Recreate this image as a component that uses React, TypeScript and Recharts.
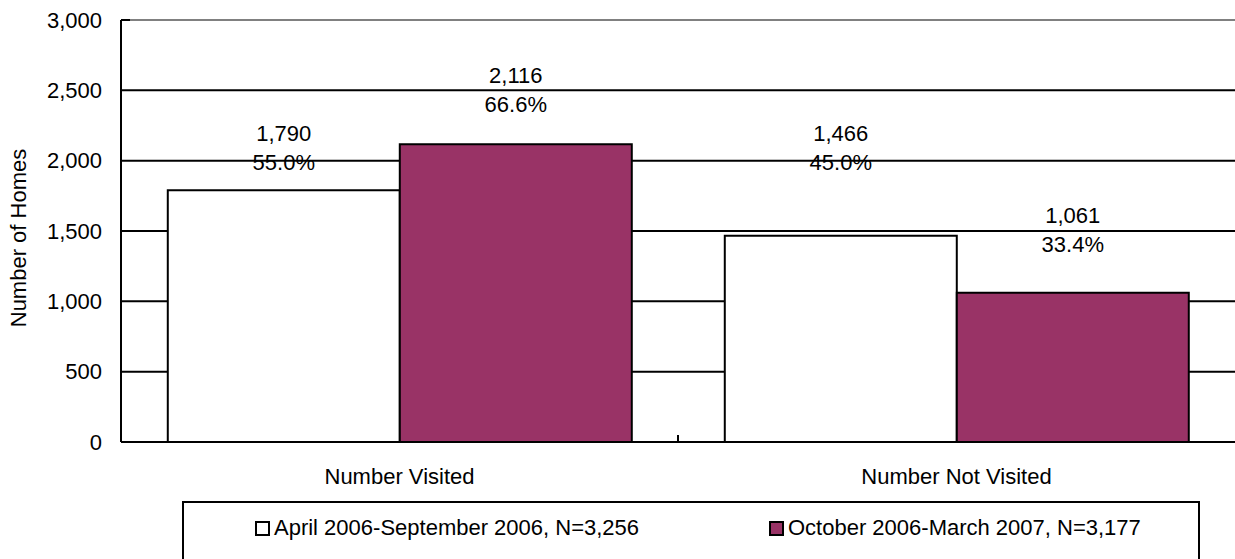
import { BarChart, Bar, XAxis, YAxis, CartesianGrid, Legend, LabelList, Label } from 'recharts';

const categories = ['Number Visited', 'Number Not Visited'];
const aprSepHomes = [1790, 1466];
const octMarHomes = [2116, 1061];
const aprSepPct = ['55.0%', '45.0%'];
const octMarPct = ['66.6%', '33.4%'];
const seriesNames = ['April 2006-September 2006, N=3,256', 'October 2006-March 2007, N=3,177'];
const yTicks = [0, 500, 1000, 1500, 2000, 2500, 3000];

const data = categories.map((name, i) => ({ name, aprSep: aprSepHomes[i], octMar: octMarHomes[i] }));

const FONT = '"Liberation Sans", Arial, sans-serif';
const PLUM = '#993366';
const X_TICK_GAP = 26;

// how far above each bar top the labels were placed in the original
const liftAprSep = [57, 102];
const liftOctMar = [69, 77];

const fmt = (v: number) => Number(v).toLocaleString('en-US');

function makeLabel(pcts: string[], lifts: number[]) {
  return (props: any) => {
    const { x, y, width, index, value } = props;
    const cx = Number(x) + Number(width) / 2;
    const top = Number(y) - lifts[index];
    return (
      <g>
        <text x={cx} y={top} textAnchor="middle" dominantBaseline="central" fontSize={22} fontFamily={FONT} fill="#000">
          {fmt(value)}
        </text>
        <text x={cx} y={top + 29} textAnchor="middle" dominantBaseline="central" fontSize={22} fontFamily={FONT} fill="#000">
          {pcts[index]}
        </text>
      </g>
    );
  };
}

function YTick(props: any) {
  const { x, y, payload } = props;
  return (
    <text x={x} y={y} textAnchor="end" dominantBaseline="central" fontSize={22} fontFamily={FONT} fill="#000">
      {fmt(payload.value)}
    </text>
  );
}

// category label plus the little upward tick between the two groups
function XTick(props: any) {
  const { x, y, payload, index } = props;
  const half = payload && payload.offset ? payload.offset : 0;
  const axisY = y - X_TICK_GAP;
  return (
    <g>
      {index < categories.length - 1 && half > 0 && (
        <line x1={x + half} x2={x + half} y1={axisY} y2={axisY - 7} stroke="#000" strokeWidth={2} />
      )}
      <text x={x} y={y} dy="0.71em" textAnchor="middle" fontSize={22} fontFamily={FONT} fill="#000">
        {payload.value}
      </text>
    </g>
  );
}

function GridLine(props: any) {
  const { x1, x2, y1, y2, y: plotTop } = props;
  if (Math.abs(y1 - plotTop) < 1) {
    return (
      <g>
        <line x1={x1} x2={x1 + 9} y1={y1} y2={y2} stroke="#000" strokeWidth={2} />
        <line x1={x1 + 9} x2={x2} y1={y1} y2={y2} stroke="#808080" strokeWidth={2} />
      </g>
    );
  }
  return <line x1={x1} x2={x2} y1={y1} y2={y2} stroke="#000" strokeWidth={2} />;
}

function LegendBox() {
  const colors = ['#fff', PLUM];
  const offsets = [71, 585];
  return (
    <div
      style={{
        position: 'relative',
        width: 1018,
        height: 62,
        boxSizing: 'border-box',
        border: '2px solid #000',
        background: '#fff',
        fontFamily: FONT,
        fontSize: 22,
        color: '#000',
      }}
    >
      {seriesNames.map((n, i) => (
        <div
          key={n}
          style={{ position: 'absolute', left: offsets[i], top: 14, height: 22, lineHeight: '22px', display: 'flex', alignItems: 'center', whiteSpace: 'nowrap' }}
        >
          <span
            style={{ display: 'inline-block', width: 15, height: 15, boxSizing: 'border-box', border: '2px solid #000', background: colors[i], marginRight: 4 }}
          />
          <span>{n}</span>
        </div>
      ))}
    </div>
  );
}

export default function App() {
  return (
    <div style={{ position: 'absolute', left: 0, top: 0, background: '#fff' }}>
      <BarChart
        width={1235}
        height={559}
        data={data}
        margin={{ top: 20, right: 0, left: 0, bottom: 57 }}
        barCategoryGap="8.4%"
        barGap={0}
      >
        <CartesianGrid vertical={false} horizontal={(p: any) => <GridLine {...p} />} />
        <XAxis
          dataKey="name"
          height={60}
          axisLine={{ stroke: '#000', strokeWidth: 2 }}
          tickLine={false}
          tickSize={0}
          tickMargin={X_TICK_GAP}
          tick={<XTick />}
        />
        <YAxis
          width={121}
          domain={[0, 3000]}
          ticks={yTicks}
          interval={0}
          axisLine={{ stroke: '#000', strokeWidth: 2 }}
          tickLine={false}
          tickSize={0}
          tickMargin={19}
          tick={<YTick />}
        >
          <Label
            content={(p: any) => {
              const vb = p.viewBox;
              const lx = vb.x + 18;
              const ly = vb.y + vb.height / 2 + 7;
              return (
                <text
                  x={lx}
                  y={ly}
                  transform={`rotate(-90, ${lx}, ${ly})`}
                  textAnchor="middle"
                  dominantBaseline="central"
                  fontSize={22}
                  fontFamily={FONT}
                  fill="#000"
                >
                  Number of Homes
                </text>
              );
            }}
          />
        </YAxis>
        <Legend
          verticalAlign="middle"
          align="center"
          layout="horizontal"
          wrapperStyle={{ left: 182, top: 501, width: 1018, height: 62 }}
          content={() => <LegendBox />}
        />
        <Bar dataKey="aprSep" name={seriesNames[0]} fill="#fff" stroke="#000" strokeWidth={2} isAnimationActive={false}>
          <LabelList dataKey="aprSep" content={makeLabel(aprSepPct, liftAprSep)} />
        </Bar>
        <Bar dataKey="octMar" name={seriesNames[1]} fill={PLUM} stroke="#000" strokeWidth={2} isAnimationActive={false}>
          <LabelList dataKey="octMar" content={makeLabel(octMarPct, liftOctMar)} />
        </Bar>
      </BarChart>
    </div>
  );
}
